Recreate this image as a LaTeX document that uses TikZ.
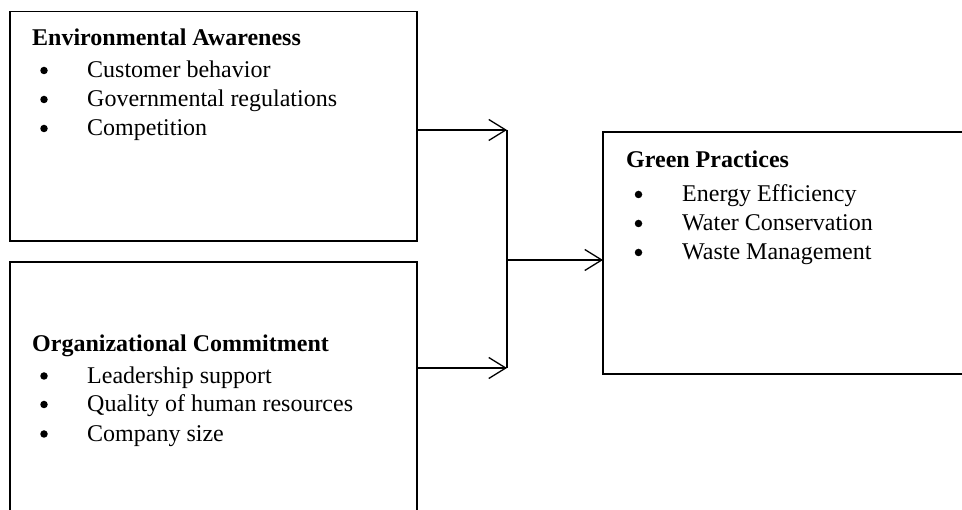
\documentclass[tikz,border=0pt]{standalone}
\usepackage{fontspec}
\setmainfont{Liberation Serif}
\usetikzlibrary{arrows.meta}
\begin{document}
\begin{tikzpicture}[x=1pt,y=-1pt,
  box/.style={draw=black, line width=1.8pt, rectangle, inner sep=0pt, outer sep=0pt},
  ttl/.style={anchor=base west, inner sep=0pt, font=\fontsize{24}{28}\selectfont\bfseries},
  itm/.style={anchor=base west, inner sep=0pt, font=\fontsize{24}{28}\selectfont},
  dot/.style={circle, fill=black, inner sep=0pt, minimum size=7.5pt},
  conn/.style={line width=1.3pt},
  arr/.style={conn, -{Straight Barb[length=17pt, width=21pt, line width=1.3pt]}}
]
\useasboundingbox (0,0) rectangle (962,510);
\clip (0,0) rectangle (962,510);

% boxes
\node[box, minimum width=407pt, minimum height=229.5pt] (ea) at (213.5,126.25) {};
\node[box, minimum width=407pt, minimum height=278pt] (oc) at (213.5,401) {};
\node[box, minimum width=369pt, minimum height=242pt] (gp) at (787.5,253) {};

% Environmental Awareness
\node[ttl] (eat) at (32,45.5) {Environmental Awareness};
\node[dot] (ead1) at (44,70.5) {};
\node[itm] (eai1) at (87,78) {Customer behavior};
\node[dot] (ead2) at (44,99.5) {};
\node[itm] (eai2) at (87,107) {Governmental regulations};
\node[dot] (ead3) at (44,128.5) {};
\node[itm] (eai3) at (87,136) {Competition};

% Organizational Commitment
\node[ttl] (oct) at (32,352) {Organizational Commitment};
\node[dot] (ocd1) at (44,376) {};
\node[itm] (oci1) at (87,383.5) {Leadership support};
\node[dot] (ocd2) at (44,404.5) {};
\node[itm] (oci2) at (87,412) {Quality of human resources};
\node[dot] (ocd3) at (44,434) {};
\node[itm] (oci3) at (87,441.5) {Company size};

% Green Practices
\node[ttl] (gpt) at (626,167.5) {Green Practices};
\node[dot] (gpd1) at (638.5,194.5) {};
\node[itm] (gpi1) at (682,202) {Energy Efficiency};
\node[dot] (gpd2) at (638.5,223.5) {};
\node[itm] (gpi2) at (682,231) {Water Conservation};
\node[dot] (gpd3) at (638.5,252.5) {};
\node[itm] (gpi3) at (682,260) {Waste Management};

% connectors
\coordinate (j1) at (507,130);
\coordinate (j2) at (507,368);
\coordinate (jm) at (507,260);
\draw[arr] (ea.east |- j1) -- (j1);
\draw[arr] (oc.east |- j2) -- (j2);
\draw[conn] (j1) -- (j2);
\draw[arr] (jm) -- (gp.west |- jm);
\end{tikzpicture}
\end{document}
